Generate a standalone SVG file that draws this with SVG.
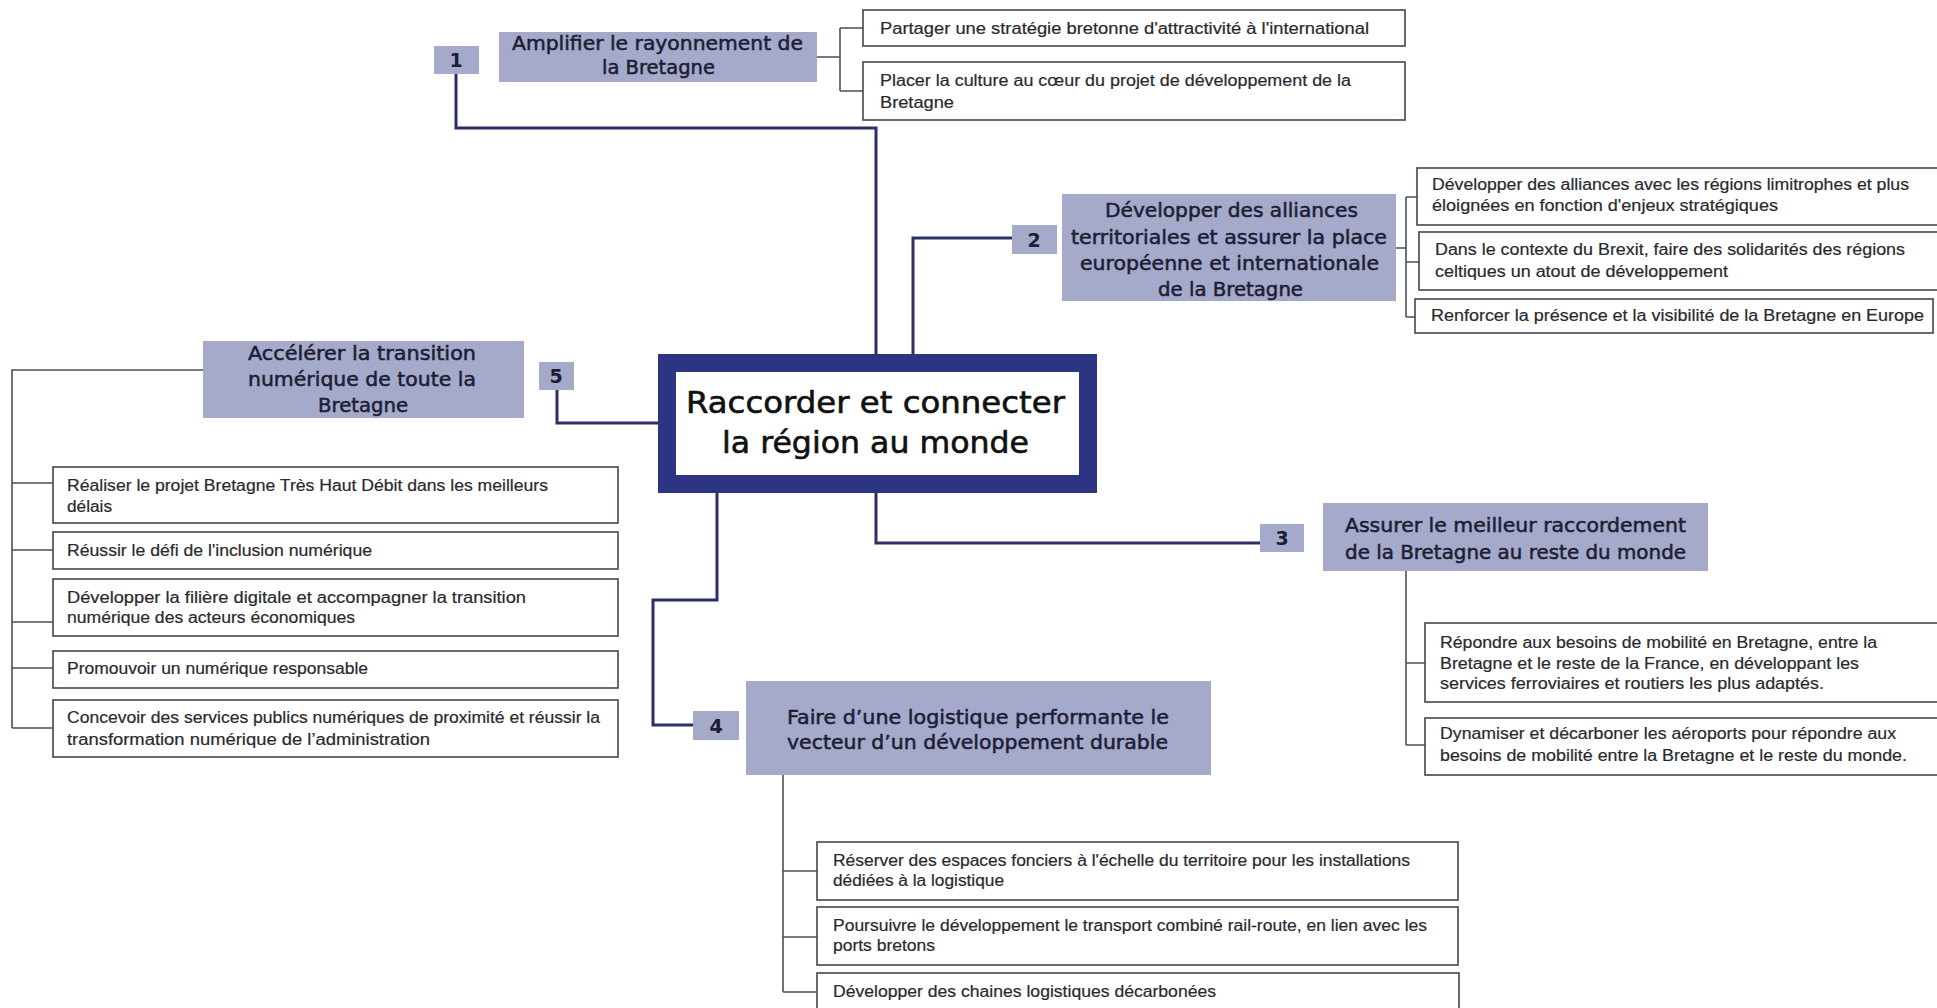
<svg xmlns="http://www.w3.org/2000/svg" width="1937" height="1008" viewBox="0 0 1937 1008">
<style>
.bg{fill:#ffffff}
.ttl{fill:#A6AACA}
.num{fill:#A6AACA}
.main{stroke:#2D3066;stroke-width:3;fill:none}
.br{stroke:#4E4E5C;stroke-width:1.6;fill:none}
.child{fill:#ffffff;stroke:#45454F;stroke-width:1.6}
.tt{font-family:"DejaVu Sans","Noto Sans",sans-serif;font-size:20px;fill:#1D1E36;stroke:#1D1E36;stroke-width:0.55}
.nt{font-family:"DejaVu Sans","Noto Sans",sans-serif;font-size:19px;font-weight:bold;fill:#1D1E36;text-anchor:middle}
.ct{font-family:"Liberation Sans",Arial,sans-serif;font-size:16px;fill:#2A2A2E;stroke:#2A2A2E;stroke-width:0.2}
.cen{font-family:"DejaVu Sans","Noto Sans",sans-serif;font-size:30px;fill:#111111;stroke:#111111;stroke-width:0.6}
</style>
<rect class="bg" x="0" y="0" width="1937" height="1008"/>

<g id="connectors">
  <path class="main" d="M456,74 V128 H876 V356"/>
  <path class="main" d="M913,356 V238 H1012"/>
  <path class="main" d="M876,492 V543 H1260"/>
  <path class="main" d="M717,492 V600 H653 V725 H693"/>
  <path class="main" d="M557,390 V423 H660"/>
  <path class="br" d="M817,57 H840 M840,28 V91 M840,28 H863 M840,91 H863"/>
  <path class="br" d="M1396,248 H1406 M1406,197 V317 M1406,197 H1417 M1406,262 H1419 M1406,317 H1415"/>
  <path class="br" d="M1406,571 V745 M1406,663 H1425 M1406,745 H1425"/>
  <path class="br" d="M783,775 V992 M783,871 H817 M783,937 H817 M783,992 H817"/>
  <path class="br" d="M203,370 H12 V728 M12,483 H53 M12,550 H53 M12,622 H53 M12,668 H53 M12,728 H53"/>
</g>

<g id="center">
  <rect x="667" y="363" width="421" height="121" fill="#ffffff" stroke="#2C3483" stroke-width="18"/>
  <text class="cen" x="686" y="413" textLength="379" lengthAdjust="spacingAndGlyphs">Raccorder et connecter</text>
  <text class="cen" x="722" y="453" textLength="307" lengthAdjust="spacingAndGlyphs">la région au monde</text>
</g>

<g id="node1">
  <rect class="num" x="434" y="46" width="45" height="28"/>
  <text class="nt" x="456" y="67">1</text>
  <rect class="ttl" x="499" y="32" width="318" height="50"/>
  <text class="tt" x="512" y="50" textLength="291" lengthAdjust="spacingAndGlyphs">Amplifier le rayonnement de</text>
  <text class="tt" x="602" y="74" textLength="113" lengthAdjust="spacingAndGlyphs">la Bretagne</text>
</g>
<g id="node1a">
  <rect class="child" x="863" y="10" width="542" height="36"/>
  <text class="ct" x="880" y="34" textLength="489" lengthAdjust="spacingAndGlyphs">Partager une stratégie bretonne d'attractivité à l'international</text>
</g>
<g id="node1b">
  <rect class="child" x="863" y="62" width="542" height="58"/>
  <text class="ct" x="880" y="86" textLength="471" lengthAdjust="spacingAndGlyphs">Placer la  culture au cœur du projet de développement de la</text>
  <text class="ct" x="880" y="108" textLength="74" lengthAdjust="spacingAndGlyphs">Bretagne</text>
</g>

<g id="node2">
  <rect class="num" x="1012" y="225" width="45" height="29"/>
  <text class="nt" x="1034" y="247">2</text>
  <rect class="ttl" x="1062" y="194" width="334" height="107"/>
  <text class="tt" x="1105" y="217" textLength="253" lengthAdjust="spacingAndGlyphs">Développer  des alliances</text>
  <text class="tt" x="1071" y="244" textLength="316" lengthAdjust="spacingAndGlyphs">territoriales et assurer la place</text>
  <text class="tt" x="1080" y="270" textLength="299" lengthAdjust="spacingAndGlyphs">européenne et internationale</text>
  <text class="tt" x="1158" y="296" textLength="145" lengthAdjust="spacingAndGlyphs">de la Bretagne</text>
</g>
<g id="node2a">
  <rect class="child" x="1417" y="168" width="530" height="57"/>
  <text class="ct" x="1432" y="190" textLength="477" lengthAdjust="spacingAndGlyphs">Développer des alliances avec les régions limitrophes et plus</text>
  <text class="ct" x="1432" y="211" textLength="346" lengthAdjust="spacingAndGlyphs">éloignées en fonction d'enjeux stratégiques</text>
</g>
<g id="node2b">
  <rect class="child" x="1419" y="232" width="530" height="58"/>
  <text class="ct" x="1435" y="255" textLength="470" lengthAdjust="spacingAndGlyphs">Dans le  contexte du Brexit, faire des solidarités des régions</text>
  <text class="ct" x="1435" y="277" textLength="293" lengthAdjust="spacingAndGlyphs">celtiques un atout de développement</text>
</g>
<g id="node2c">
  <rect class="child" x="1415" y="299" width="518" height="34"/>
  <text class="ct" x="1431" y="321" textLength="493" lengthAdjust="spacingAndGlyphs">Renforcer la présence et la visibilité de la  Bretagne en Europe</text>
</g>

<g id="node3">
  <rect class="num" x="1260" y="524" width="44" height="28"/>
  <text class="nt" x="1282" y="545">3</text>
  <rect class="ttl" x="1323" y="503" width="385" height="68"/>
  <text class="tt" x="1345" y="532" textLength="341" lengthAdjust="spacingAndGlyphs">Assurer le meilleur  raccordement</text>
  <text class="tt" x="1345" y="559" textLength="341" lengthAdjust="spacingAndGlyphs">de la Bretagne au reste du monde</text>
</g>
<g id="node3a">
  <rect class="child" x="1425" y="623" width="522" height="79"/>
  <text class="ct" x="1440" y="648" textLength="437" lengthAdjust="spacingAndGlyphs">Répondre aux besoins de mobilité  en Bretagne, entre la</text>
  <text class="ct" x="1440" y="669" textLength="419" lengthAdjust="spacingAndGlyphs">Bretagne et le reste de la  France, en développant les</text>
  <text class="ct" x="1440" y="689" textLength="384" lengthAdjust="spacingAndGlyphs">services ferroviaires et routiers les plus adaptés.</text>
</g>
<g id="node3b">
  <rect class="child" x="1425" y="718" width="522" height="57"/>
  <text class="ct" x="1440" y="739" textLength="456" lengthAdjust="spacingAndGlyphs">Dynamiser et décarboner les aéroports pour répondre aux</text>
  <text class="ct" x="1440" y="761" textLength="467" lengthAdjust="spacingAndGlyphs">besoins de mobilité  entre la Bretagne et le reste du monde.</text>
</g>

<g id="node4">
  <rect class="num" x="693" y="711" width="46" height="29"/>
  <text class="nt" x="716" y="733">4</text>
  <rect class="ttl" x="746" y="681" width="465" height="94"/>
  <text class="tt" x="787" y="724" textLength="382" lengthAdjust="spacingAndGlyphs">Faire d’une logistique performante le</text>
  <text class="tt" x="787" y="749" textLength="381" lengthAdjust="spacingAndGlyphs">vecteur d’un développement  durable</text>
</g>
<g id="node4a">
  <rect class="child" x="817" y="842" width="641" height="58"/>
  <text class="ct" x="833" y="866" textLength="577" lengthAdjust="spacingAndGlyphs">Réserver des espaces fonciers à l'échelle du territoire pour les installations</text>
  <text class="ct" x="833" y="886" textLength="171" lengthAdjust="spacingAndGlyphs">dédiées à la logistique</text>
</g>
<g id="node4b">
  <rect class="child" x="817" y="907" width="641" height="58"/>
  <text class="ct" x="833" y="931" textLength="594" lengthAdjust="spacingAndGlyphs">Poursuivre le développement  le transport combiné rail-route, en lien  avec les</text>
  <text class="ct" x="833" y="951" textLength="102" lengthAdjust="spacingAndGlyphs">ports bretons</text>
</g>
<g id="node4c">
  <rect class="child" x="817" y="973" width="642" height="50"/>
  <text class="ct" x="833" y="997" textLength="383" lengthAdjust="spacingAndGlyphs">Développer des chaines logistiques décarbonées</text>
</g>

<g id="node5">
  <rect class="num" x="539" y="362" width="35" height="28"/>
  <text class="nt" x="556" y="383">5</text>
  <rect class="ttl" x="203" y="341" width="321" height="77"/>
  <text class="tt" x="248" y="360" textLength="228" lengthAdjust="spacingAndGlyphs">Accélérer la transition</text>
  <text class="tt" x="248" y="386" textLength="228" lengthAdjust="spacingAndGlyphs">numérique de toute la</text>
  <text class="tt" x="318" y="412" textLength="90" lengthAdjust="spacingAndGlyphs">Bretagne</text>
</g>
<g id="node5a">
  <rect class="child" x="53" y="467" width="565" height="56"/>
  <text class="ct" x="67" y="491" textLength="481" lengthAdjust="spacingAndGlyphs">Réaliser le  projet Bretagne Très Haut Débit dans les meilleurs</text>
  <text class="ct" x="67" y="512" textLength="45" lengthAdjust="spacingAndGlyphs">délais</text>
</g>
<g id="node5b">
  <rect class="child" x="53" y="532" width="565" height="37"/>
  <text class="ct" x="67" y="556" textLength="305" lengthAdjust="spacingAndGlyphs">Réussir le défi de l'inclusion numérique</text>
</g>
<g id="node5c">
  <rect class="child" x="53" y="579" width="565" height="57"/>
  <text class="ct" x="67" y="603" textLength="459" lengthAdjust="spacingAndGlyphs">Développer la filière digitale et accompagner la transition</text>
  <text class="ct" x="67" y="623" textLength="288" lengthAdjust="spacingAndGlyphs">numérique des acteurs économiques</text>
</g>
<g id="node5d">
  <rect class="child" x="53" y="651" width="565" height="37"/>
  <text class="ct" x="67" y="674" textLength="301" lengthAdjust="spacingAndGlyphs">Promouvoir un numérique responsable</text>
</g>
<g id="node5e">
  <rect class="child" x="53" y="700" width="565" height="57"/>
  <text class="ct" x="67" y="723" textLength="533" lengthAdjust="spacingAndGlyphs">Concevoir des services publics numériques de proximité et réussir la</text>
  <text class="ct" x="67" y="745" textLength="363" lengthAdjust="spacingAndGlyphs">transformation numérique de l’administration</text>
</g>
</svg>
